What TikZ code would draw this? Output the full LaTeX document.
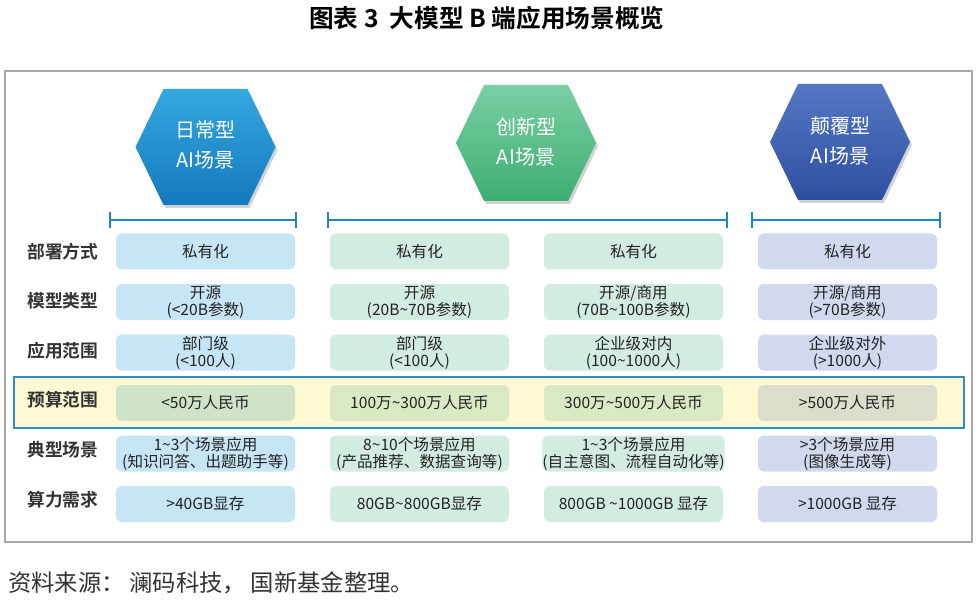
\documentclass[tikz,border=0pt]{standalone}
\usepackage{fontspec}
\newfontfamily\cjk{Noto Sans CJK SC}[BoldFont={Noto Sans CJK SC Bold}]
\usetikzlibrary{shadings}
\definecolor{framegray}{HTML}{A8A8A8}
\definecolor{brk}{HTML}{1F86C4}
\definecolor{cblue}{HTML}{C6E6F5}
\definecolor{cgreen}{HTML}{D3ECE0}
\definecolor{cviolet}{HTML}{D2D9EF}
\definecolor{yblue}{HTML}{CFE3C8}
\definecolor{ygreen}{HTML}{DAE9C4}
\definecolor{yviolet}{HTML}{DCDDCB}
\definecolor{hlfill}{HTML}{FDF9D2}
\definecolor{hlline}{HTML}{2A8FC6}
\definecolor{txt}{HTML}{222222}
\definecolor{lbl}{HTML}{333333}
\definecolor{hbtop}{HTML}{35A8E0}
\definecolor{hbbot}{HTML}{1479BD}
\definecolor{hgtop}{HTML}{7ACFA2}
\definecolor{hgbot}{HTML}{3DAE72}
\definecolor{hdtop}{HTML}{5478C4}
\definecolor{hdbot}{HTML}{2E4F9E}
\begin{document}
\begin{tikzpicture}[x=0.75pt,y=-0.75pt,
  cell/.style={rounded corners=4.5pt, minimum width=134.25pt, minimum height=27pt,
    inner sep=0pt, align=center, text=txt, font=\cjk\fontsize{11.7}{12.8}\selectfont},
  rowlabel/.style={text=lbl, font=\cjk\bfseries\fontsize{13.3}{14}\selectfont, inner sep=0pt},
  hextext/.style={text=white, align=center, font=\cjk\fontsize{15}{22.5}\selectfont, inner sep=0pt},
  bracket/.style={draw=brk, line width=1.6pt}
]
\useasboundingbox (0,0) rectangle (979,606);
\fill[white] (0,0) rectangle (979,606);

% title
\node[font=\cjk\bfseries\fontsize{18.5}{20}\selectfont, text=black, inner sep=0pt] (title) at (487,18) {图表 3 \ 大模型 B 端应用场景概览};

% frame
\draw[framegray, line width=0.8pt] (5,71) rectangle (972,542);

% hexagons
\newcommand{\hexag}[5]{%
  \fill[black, opacity=0.18] (#1-70+2,#2+3) -- (#1-42+2,#2-58+3) -- (#1+42+2,#2-58+3) -- (#1+70+2,#2+3) -- (#1+42+2,#2+58+3) -- (#1-42+2,#2+58+3) -- cycle;
  \shade[top color=#3, bottom color=#4] (#1-70,#2) -- (#1-42,#2-58) -- (#1+42,#2-58) -- (#1+70,#2) -- (#1+42,#2+58) -- (#1-42,#2+58) -- cycle;
}
\hexag{205.5}{147}{hbtop}{hbbot}{}
\hexag{526}{143}{hgtop}{hgbot}{}
\hexag{840}{142}{hdtop}{hdbot}{}
\node[hextext] (h1) at (205.5,145) {日常型\\AI场景};
\node[hextext] (h2) at (526,142) {创新型\\AI场景};
\node[hextext] (h3) at (840,141) {颠覆型\\AI场景};

% brackets
\coordinate (b1l) at (110,220); \coordinate (b1r) at (296,220);
\coordinate (b2l) at (328,220); \coordinate (b2r) at (727,220);
\coordinate (b3l) at (752,220); \coordinate (b3r) at (940,220);
\foreach \l/\r in {b1l/b1r,b2l/b2r,b3l/b3r}{
  \draw[bracket] (\l) -- (\r);
  \draw[bracket] ([yshift=6pt]\l) -- ([yshift=-6pt]\l);
  \draw[bracket] ([yshift=6pt]\r) -- ([yshift=-6pt]\r);
}

% highlight band
\draw[hlline, fill=hlfill, line width=1.5pt] (14,377) rectangle (964,428);

% row labels
\node[rowlabel] (l1) at (63,252) {部署方式};
\node[rowlabel] (l2) at (63,301) {模型类型};
\node[rowlabel] (l3) at (63,351) {应用范围};
\node[rowlabel] (l4) at (63,400) {预算范围};
\node[rowlabel] (l5) at (63,450) {典型场景};
\node[rowlabel] (l6) at (63,500) {算力需求};

% row 1
\node[cell, fill=cblue] (r1c1) at (205.5,251.5) {私有化};
\node[cell, fill=cgreen] (r1c2) at (419.5,251.5) {私有化};
\node[cell, fill=cgreen] (r1c3) at (633.5,251.5) {私有化};
\node[cell, fill=cviolet] (r1c4) at (847.5,251.5) {私有化};
% row 2
\node[cell, fill=cblue] (r2c1) at (205.5,302) {开源\\(<20B参数)};
\node[cell, fill=cgreen] (r2c2) at (419.5,302) {开源\\(20B\textasciitilde70B参数)};
\node[cell, fill=cgreen] (r2c3) at (633.5,302) {开源/商用\\(70B\textasciitilde100B参数)};
\node[cell, fill=cviolet] (r2c4) at (847.5,302) {开源/商用\\(>70B参数)};
% row 3
\node[cell, fill=cblue] (r3c1) at (205.5,352.5) {部门级\\(<100人)};
\node[cell, fill=cgreen] (r3c2) at (419.5,352.5) {部门级\\(<100人)};
\node[cell, fill=cgreen] (r3c3) at (633.5,352.5) {企业级对内\\(100\textasciitilde1000人)};
\node[cell, fill=cviolet] (r3c4) at (847.5,352.5) {企业级对外\\(>1000人)};
% row 4
\node[cell, fill=yblue] (r4c1) at (205.5,403) {<50万人民币};
\node[cell, fill=ygreen] (r4c2) at (419.5,403) {100万\textasciitilde300万人民币};
\node[cell, fill=ygreen] (r4c3) at (633.5,403) {300万\textasciitilde500万人民币};
\node[cell, fill=yviolet] (r4c4) at (847.5,403) {>500万人民币};
% row 5
\node[cell, fill=cblue] (r5c1) at (205.5,453.5) {1\textasciitilde3个场景应用\\(知识问答、出题助手等)};
\node[cell, fill=cgreen] (r5c2) at (419.5,453.5) {8\textasciitilde10个场景应用\\(产品推荐、数据查询等)};
\node[cell, fill=cgreen] (r5c3) at (633.5,453.5) {1\textasciitilde3个场景应用\\(自主意图、流程自动化等)};
\node[cell, fill=cviolet] (r5c4) at (847.5,453.5) {>3个场景应用\\(图像生成等)};
% row 6
\node[cell, fill=cblue] (r6c1) at (205.5,504) {>40GB显存};
\node[cell, fill=cgreen] (r6c2) at (419.5,504) {80GB\textasciitilde800GB显存};
\node[cell, fill=cgreen] (r6c3) at (633.5,504) {800GB \textasciitilde1000GB 显存};
\node[cell, fill=cviolet] (r6c4) at (847.5,504) {>1000GB 显存};

% source
\node[anchor=west, text=lbl, font=\cjk\fontsize{17.5}{19}\selectfont, inner sep=0pt] (src) at (8,583) {资料来源：\hspace{0.2em}澜码科技，\hspace{0.2em}国新基金整理。};
\end{tikzpicture}
\end{document}
